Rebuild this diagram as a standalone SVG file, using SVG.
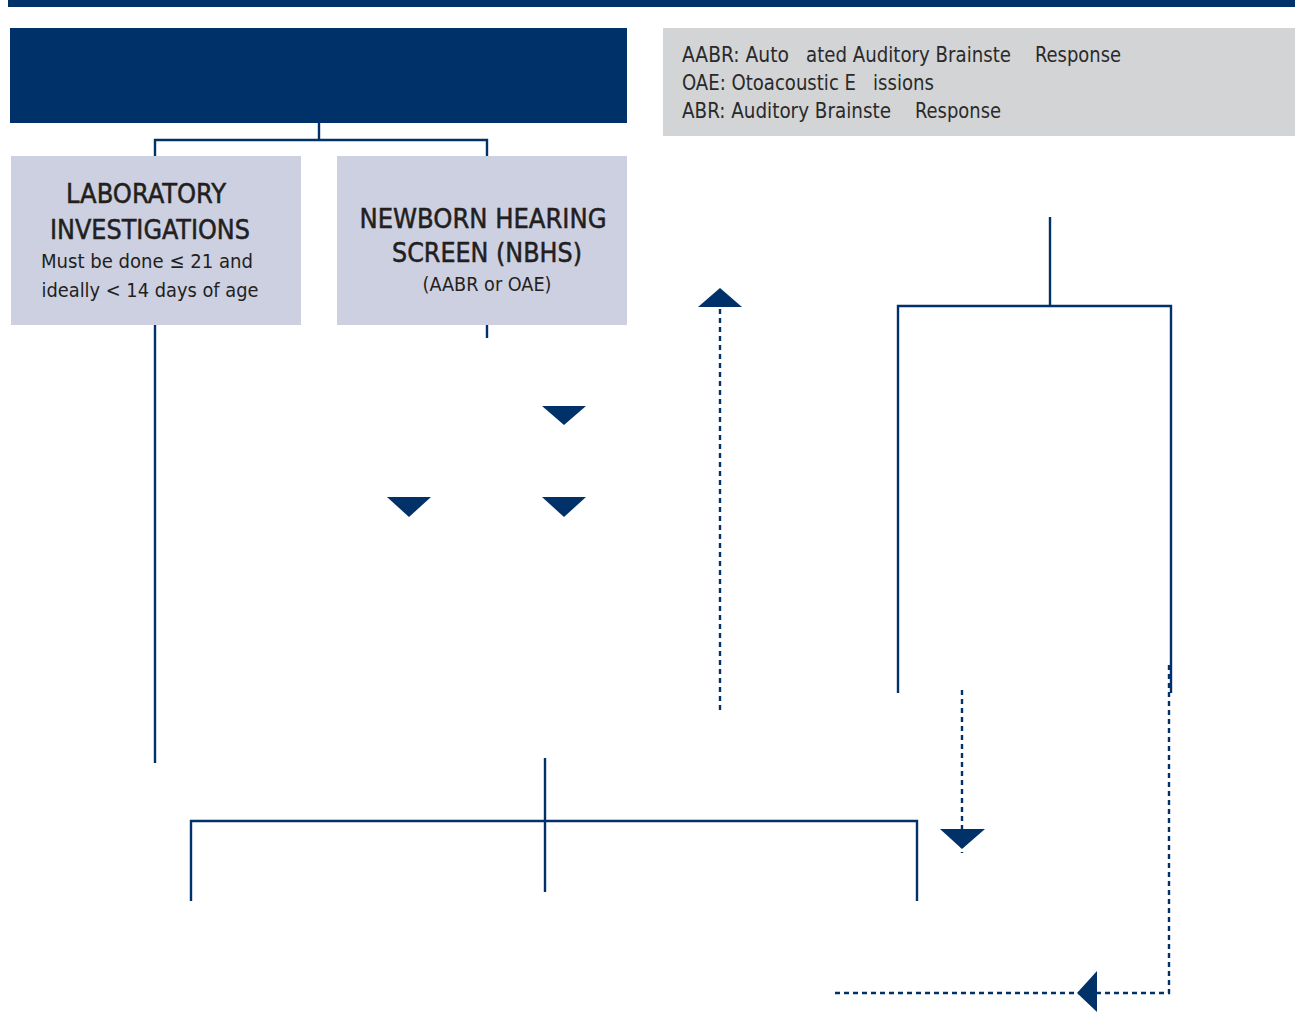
<svg xmlns="http://www.w3.org/2000/svg" width="1295" height="1012" viewBox="0 0 1295 1012">
  <style>
    .navy { fill: #003169; }
    .box { fill: #cdd0e1; }
    .legend { fill: #d3d4d6; }
    .ln { fill: none; stroke: #003169; stroke-width: 2.4; }
    .dot { fill: none; stroke: #003169; stroke-width: 2.4; stroke-dasharray: 5 4; }
    .t { font-family: "Liberation Sans Narrow", "DejaVu Sans Condensed", "Liberation Sans", sans-serif; fill: #231f20; }
    .hd { font-size: 27px; text-anchor: middle; stroke: #231f20; stroke-width: 0.5; }
    .sub { font-size: 20px; text-anchor: middle; }
    .lg { font-size: 21px; fill: #2a2a2a; }
  </style>

  <!-- top band -->
  <rect class="navy" x="8" y="0" width="1287" height="7"/>

  <!-- title block -->
  <g id="title">
    <rect class="navy" x="10" y="28" width="617" height="95"/>
  </g>

  <!-- abbreviations -->
  <g id="legend">
    <rect class="legend" x="663" y="28" width="632" height="108"/>
    <text class="t lg" x="682" y="62" textLength="107" lengthAdjust="spacingAndGlyphs">AABR: Auto</text>
    <text class="t lg" x="806" y="62" textLength="205" lengthAdjust="spacingAndGlyphs">ated Auditory Brainste</text>
    <text class="t lg" x="1035" y="62" textLength="86" lengthAdjust="spacingAndGlyphs">Response</text>
    <text class="t lg" x="682" y="90" textLength="174" lengthAdjust="spacingAndGlyphs">OAE: Otoacoustic E</text>
    <text class="t lg" x="873" y="90" textLength="61" lengthAdjust="spacingAndGlyphs">issions</text>
    <text class="t lg" x="682" y="118" textLength="209" lengthAdjust="spacingAndGlyphs">ABR: Auditory Brainste</text>
    <text class="t lg" x="915" y="118" textLength="86" lengthAdjust="spacingAndGlyphs">Response</text>
  </g>

  <g id="lab">
    <rect class="box" x="11" y="156" width="290" height="169"/>
    <text class="t hd" x="146" y="203" textLength="160" lengthAdjust="spacingAndGlyphs">LABORATORY</text>
    <text class="t hd" x="150" y="239" textLength="200" lengthAdjust="spacingAndGlyphs">INVESTIGATIONS</text>
    <text class="t sub" x="147" y="268" textLength="212" lengthAdjust="spacingAndGlyphs">Must be done ≤ 21 and</text>
    <text class="t sub" x="150" y="297" textLength="217" lengthAdjust="spacingAndGlyphs">ideally &lt; 14 days of age</text>
  </g>

  <g id="nbhs">
    <rect class="box" x="337" y="156" width="290" height="169"/>
    <text class="t hd" x="483" y="228" textLength="247" lengthAdjust="spacingAndGlyphs">NEWBORN HEARING</text>
    <text class="t hd" x="487" y="262" textLength="190" lengthAdjust="spacingAndGlyphs">SCREEN (NBHS)</text>
    <text class="t sub" x="487" y="291" textLength="129" lengthAdjust="spacingAndGlyphs" style="font-size:19px">(AABR or OAE)</text>
  </g>

  <g id="connectors">
    <!-- title to the two first steps -->
    <path class="ln" d="M319 123 V140 M155 156 V140 H487 V156"/>
    <path class="ln" d="M155 325 V763"/>
    <path class="ln" d="M487 325 V338"/>

    <!-- arrowheads in the screening column -->
    <path class="navy" d="M542 406 H586 L564 425 Z"/>
    <path class="navy" d="M542 497 H586 L564 517 Z"/>
    <path class="navy" d="M387 497 H431 L409 517 Z"/>

    <!-- dotted return upward -->
    <path class="dot" d="M720 710 V307"/>
    <path class="navy" d="M698 307 H742 L720 288 Z"/>

    <!-- right-hand branch -->
    <path class="ln" d="M1050 217 V306 M898 693 V306 H1171 V693"/>
    <path class="dot" d="M962 690 V853"/>
    <path class="navy" d="M940 829 H985 L962 849 Z"/>
    <path class="dot" d="M1169 665 V993 H831"/>
    <path class="navy" d="M1097 971 V1012 L1077 993 Z"/>

    <!-- bottom split -->
    <path class="ln" d="M545 758 V892 M191 901 V821 H917 V901"/>
  </g>
</svg>
